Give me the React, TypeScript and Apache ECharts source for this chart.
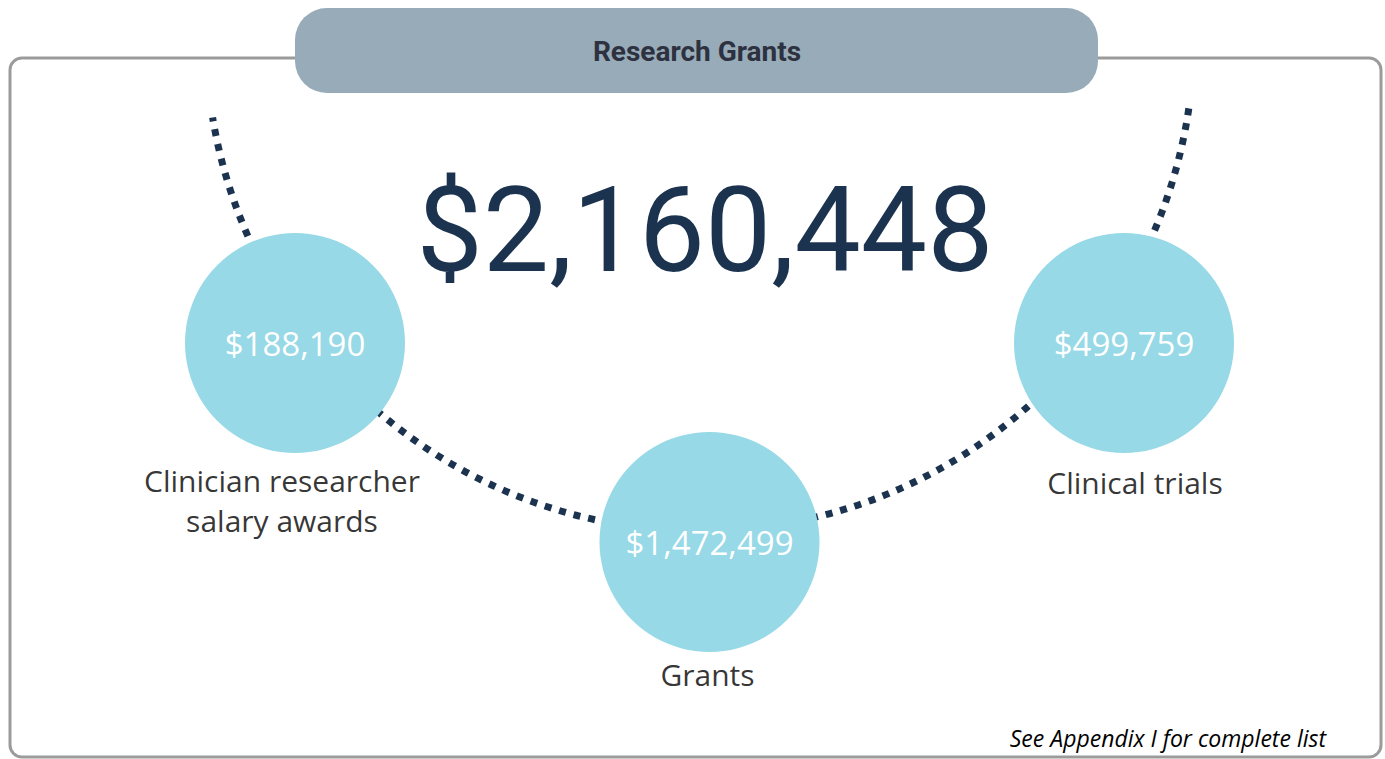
import React, { useEffect, useRef } from "react";
import * as echarts from "echarts";

// ---- data ----
const categories = ["Clinician researcher\nsalary awards", "Grants", "Clinical trials"];
const amounts = [188190, 1472499, 499759];
const titleText = "Research Grants";
const footnote = "See Appendix I for complete list";

// ---- layout (not data) ----
const ROW = [0, 1, 0];
const LABEL_SHIFT: [number, number][] = [[-13, 0], [-2, -5], [11, 2]];

const fmt = (v: number) => "$" + v.toLocaleString("en-US");

export default function App() {
  const ref = useRef<HTMLDivElement>(null);
  useEffect(() => {
    if (!ref.current) return;
    const chart = echarts.init(ref.current, null, { renderer: "svg" });
    const total = amounts.reduce((a, b) => a + b, 0);
    const navy = "#1c3350";

    chart.setOption({
      animation: false,
      backgroundColor: "#ffffff",
      grid: { left: 295, right: 261, top: 343, bottom: 217 },
      xAxis: { type: "category", data: categories, boundaryGap: false, show: false },
      yAxis: { type: "value", min: 0, max: 1, inverse: true, show: false },
      graphic: [
        {
          type: "rect",
          z: 0,
          shape: { x: 10, y: 58, width: 1371, height: 699, r: 12 },
          style: { fill: "#ffffff", stroke: "#9b9b9b", lineWidth: 3 },
        },
        {
          type: "arc",
          z: 1,
          shape: { cx: 700, cy: 37, r: 494, startAngle: 0.145, endAngle: 2.978, clockwise: true },
          style: { stroke: navy, lineWidth: 7, lineDash: [7, 8], fill: null },
        },
        {
          type: "rect",
          z: 2,
          shape: { x: 295, y: 8, width: 803, height: 85, r: 32 },
          style: { fill: "#98abb8" },
        },
        {
          type: "text",
          z: 3,
          x: 697,
          y: 51,
          style: {
            text: titleText,
            fill: "#2d3140",
            font: "bold 28px Roboto",
            textAlign: "center",
            textVerticalAlign: "middle",
          },
        },
        {
          type: "text",
          z: 3,
          x: 705,
          y: 231,
          style: {
            text: fmt(total),
            fill: navy,
            font: "118px Roboto",
            textAlign: "center",
            textVerticalAlign: "middle",
          },
        },
        {
          type: "text",
          z: 3,
          x: 1326,
          y: 738,
          style: {
            text: footnote,
            fill: "#000000",
            font: "italic 23px 'Open Sans'",
            textAlign: "right",
            textVerticalAlign: "middle",
          },
        },
      ],
      series: [
        {
          type: "scatter",
          z: 5,
          silent: true,
          symbol: "circle",
          symbolSize: 220,
          itemStyle: { color: "#97d9e6", opacity: 1 },
          label: {
            show: true,
            position: "inside",
            color: "#ffffff",
            fontFamily: "Open Sans",
            fontSize: 33,
            formatter: (p: any) => fmt(amounts[p.dataIndex]),
          },
          data: categories.map((c, i) => [c, ROW[i]]),
        },
        {
          type: "scatter",
          z: 4,
          silent: true,
          symbol: "circle",
          symbolSize: 220,
          itemStyle: { color: "rgba(0,0,0,0)" },
          label: {
            show: true,
            position: "bottom",
            distance: 7,
            color: "#000000",
            fontFamily: "Open Sans",
            fontSize: 30,
            lineHeight: 40,
            align: "center",
            formatter: (p: any) => categories[p.dataIndex],
          },
          data: categories.map((c, i) => ({
            value: [c, ROW[i]],
            label: { offset: LABEL_SHIFT[i] },
          })),
        },
      ],
    });
    return () => chart.dispose();
  }, []);

  return (
    <div
      ref={ref}
      style={{ position: "fixed", left: 0, top: 0, width: 1385, height: 759 }}
    />
  );
}
